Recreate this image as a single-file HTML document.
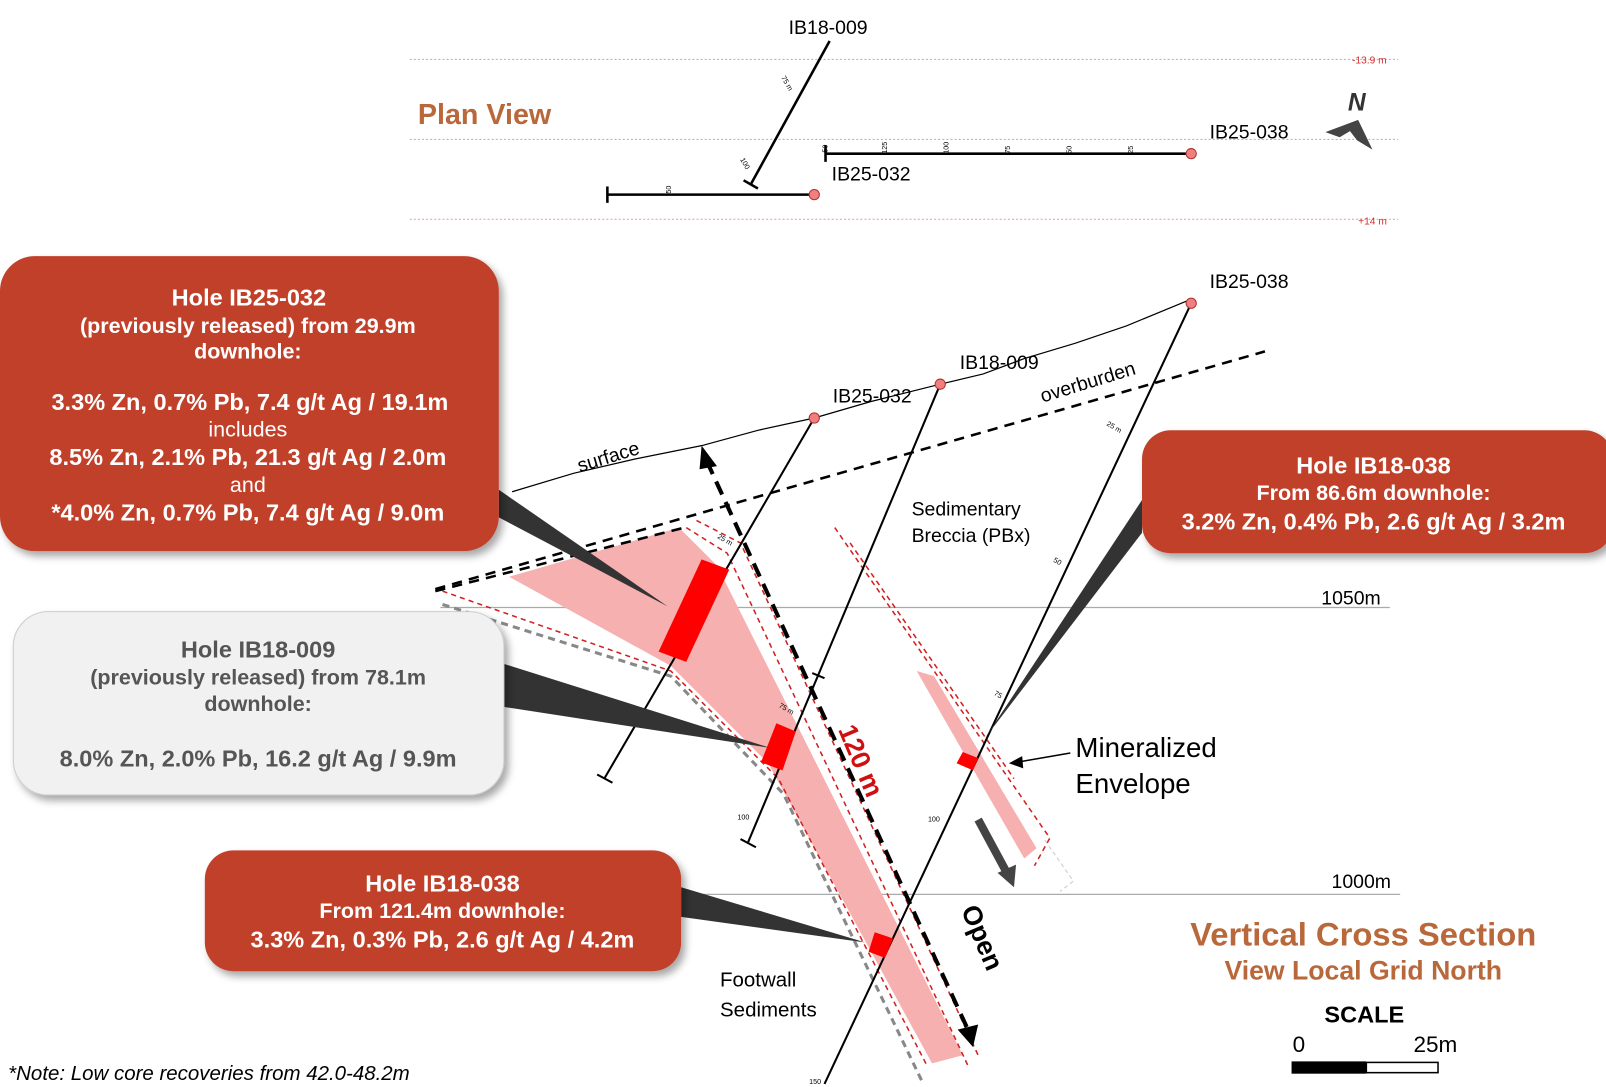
<!DOCTYPE html>
<html><head><meta charset="utf-8"><style>
html,body{margin:0;padding:0;background:#fff;}
svg{display:block;font-family:"Liberation Sans",Arial,sans-serif;}
</style></head><body>
<svg width="1606" height="1087" viewBox="0 0 1568 1061" preserveAspectRatio="none" xmlns="http://www.w3.org/2000/svg">
<defs>
<filter id="sh" x="-10%" y="-10%" width="125%" height="130%"><feDropShadow dx="4" dy="5" stdDeviation="4" flood-color="#000" flood-opacity="0.35"/></filter>
</defs>
<rect width="1568" height="1061" fill="#fff"/>
<!-- plan view -->
<g stroke="#e89a9a" stroke-width="1" stroke-dasharray="2,2">
<line x1="400" y1="58" x2="1365" y2="58"/><line x1="400" y1="136" x2="1365" y2="136"/><line x1="400" y1="214" x2="1365" y2="214"/>
</g>
<text x="1320" y="62" font-size="10" fill="#d03030">-13.9 m</text>
<text x="1326" y="219" font-size="10" fill="#d03030">+14 m</text>
<text x="408" y="121" font-size="28" font-weight="bold" fill="#b8683a">Plan View</text>
<g stroke="#000" stroke-width="2.5" fill="none">
<line x1="810" y1="40" x2="733" y2="180"/><line x1="726" y1="176" x2="740" y2="184"/>
<line x1="593" y1="190" x2="795" y2="190"/><line x1="593" y1="182" x2="593" y2="198"/>
<line x1="806" y1="150" x2="1163" y2="150"/><line x1="806" y1="142" x2="806" y2="158"/>
</g>
<g font-size="7" fill="#000">
<text x="652" y="186" transform="rotate(-90 655 186)">50</text>
<text x="862" y="146" transform="rotate(-90 866 146)">125</text>
<text x="922" y="146" transform="rotate(-90 926 146)">100</text>
<text x="982" y="146" transform="rotate(-90 986 146)">75</text>
<text x="1042" y="146" transform="rotate(-90 1046 146)">50</text>
<text x="1102" y="146" transform="rotate(-90 1106 146)">25</text>
<text x="805" y="146" transform="rotate(-90 808 146)">50</text>
<text x="760" y="80" transform="rotate(60 765 80)">75 m</text>
<text x="720" y="160" transform="rotate(60 725 160)">100</text>
</g>
<circle cx="795" cy="190" r="5" fill="#f08080" stroke="#b03030"/>
<circle cx="1163" cy="150" r="5" fill="#f08080" stroke="#b03030"/>
<g font-size="19" fill="#000">
<text x="770" y="33">IB18-009</text>
<text x="812" y="176">IB25-032</text>
<text x="1181" y="135">IB25-038</text>
</g>
<text x="1316" y="108" font-size="24" font-weight="bold" font-style="italic" fill="#333">N</text>
<path d="M1294,129 L1326,117 L1340,146 L1325,137 L1318,128 L1308,134 Z" fill="#444"/>

<!-- cross section -->
<line x1="430" y1="593" x2="1357" y2="593" stroke="#aaa" stroke-width="1.2"/>
<line x1="600" y1="873" x2="1367" y2="873" stroke="#aaa" stroke-width="1.2"/>
<text x="1290" y="590" font-size="19">1050m</text>
<text x="1300" y="867" font-size="19">1000m</text>

<polygon points="497,563 663,515 700,552 940,1030 910,1038 750,745 655,650" fill="#f7b0b0"/>
<polygon points="895,655 912,660 1012,828 1000,838" fill="#f7b0b0"/>
<g fill="none" stroke="#d02020" stroke-width="1.5" stroke-dasharray="5,4">
<polyline points="432,577 655,655 760,760 905,1040"/>
<polyline points="670,515 710,540 945,1040"/>
<polyline points="680,508 723,530 955,1030"/>
<polyline points="815,515 1025,818 1010,845"/>
<polyline points="830,530 990,760"/>
</g>
<polyline points="432,590 655,660 765,775 900,1055" fill="none" stroke="#888" stroke-width="3" stroke-dasharray="7,5"/>
<polyline points="1020,820 1048,860 1035,870" fill="none" stroke="#ccc" stroke-width="1" stroke-dasharray="4,3"/>
<g fill="none" stroke="#000" stroke-width="2.5" stroke-dasharray="10,7">
<line x1="425" y1="575" x2="1235" y2="343"/>
<line x1="425" y1="577" x2="668" y2="515"/>
</g>
<polyline points="500,480 560,462 620,448 685,435 740,420 795,408 850,392 918,375 960,365 1000,350 1050,335 1100,318 1163,292" fill="none" stroke="#000" stroke-width="1.2"/>
<g stroke="#000" stroke-width="2" fill="none">
<line x1="795" y1="408" x2="590" y2="760"/><line x1="583" y1="756" x2="598" y2="764"/>
<line x1="918" y1="375" x2="730" y2="823"/><line x1="723" y1="819" x2="738" y2="827"/>
<line x1="1163" y1="296" x2="805" y2="1058"/>
</g>
<line x1="690" y1="450" x2="945" y2="1005" stroke="#000" stroke-width="4" stroke-dasharray="14,8"/>
<polygon points="685,435 700,455 683,458" fill="#000"/>
<polygon points="950,1022 935,1005 955,1000" fill="#000"/>
<line x1="793" y1="657" x2="805" y2="662" stroke="#000" stroke-width="2"/>
<circle cx="795" cy="408" r="5" fill="#f08080" stroke="#b03030"/>
<circle cx="918" cy="375" r="5" fill="#f08080" stroke="#b03030"/>
<circle cx="1163" cy="296" r="5" fill="#f08080" stroke="#b03030"/>
<g font-size="19" fill="#000">
<text x="1181" y="281">IB25-038</text>
<text x="937" y="360">IB18-009</text>
<text x="813" y="393">IB25-032</text>
<text x="566" y="461" transform="rotate(-17 566 461)">surface</text>
<text x="1018" y="393" transform="rotate(-17 1018 393)">overburden</text>
<text x="890" y="503">Sedimentary</text>
<text x="890" y="529">Breccia (PBx)</text>
<text x="703" y="963" font-size="20">Footwall</text>
<text x="703" y="992" font-size="20">Sediments</text>
</g>
<g font-size="7" fill="#000">
<text x="700" y="525" transform="rotate(30 700 525)">25 m</text>
<text x="760" y="690" transform="rotate(30 760 690)">75 m</text>
<text x="720" y="800">100</text>
<text x="1080" y="415" transform="rotate(30 1080 415)">25 m</text>
<text x="1028" y="548" transform="rotate(30 1028 548)">50</text>
<text x="970" y="678" transform="rotate(30 970 678)">75</text>
<text x="906" y="802">100</text>
<text x="790" y="1058">150</text>
</g>
<!-- intercepts -->
<polygon points="685,546 712,556 670,646 643,636" fill="#f00"/>
<polygon points="758,706 777,714 764,752 743,744" fill="#f00"/>
<polygon points="854,910 872,916 864,935 848,929" fill="#f00"/>
<polygon points="940,734 955,740 950,752 934,745" fill="#f00"/>
<text x="0" y="0" font-size="26" font-weight="bold" fill="#d01010" transform="translate(818,712) rotate(67)">120 m</text>
<text x="0" y="0" font-size="26" font-weight="bold" fill="#000" transform="translate(938,888) rotate(67)">Open</text>
<line x1="955" y1="800" x2="982" y2="850" stroke="#444" stroke-width="8"/>
<polygon points="974,852 992,844 990,866" fill="#444"/>
<line x1="987" y1="745" x2="1045" y2="735" stroke="#000" stroke-width="1.5"/>
<polygon points="985,745 998,738 999,750" fill="#000"/>
<text x="1050" y="739" font-size="27">Mineralized</text>
<text x="1050" y="774" font-size="27">Envelope</text>

<!-- pointers -->
<polygon points="487,478 487,505 652,592" fill="#333"/>
<polygon points="492,648 492,690 752,730" fill="#333"/>
<polygon points="665,866 665,895 845,920" fill="#333"/>
<polygon points="1115,488 1115,520 962,720" fill="#333"/>
<!-- callouts -->
<rect x="0" y="250" width="487" height="288" rx="34" fill="#c0402b" filter="url(#sh)"/>
<g fill="#fff" font-weight="bold" text-anchor="middle" font-size="23">
<text x="243" y="298">Hole IB25-032</text>
<text x="242" y="325" font-size="21">(previously released) from 29.9m</text>
<text x="242" y="350" font-size="21">downhole:</text>
<text x="244" y="400">3.3% Zn, 0.7% Pb, 7.4 g/t Ag / 19.1m</text>
<text x="242" y="426" font-weight="normal" font-size="21">includes</text>
<text x="242" y="454">8.5% Zn, 2.1% Pb, 21.3 g/t Ag / 2.0m</text>
<text x="242" y="480" font-weight="normal" font-size="21">and</text>
<text x="242" y="508">*4.0% Zn, 0.7% Pb, 7.4 g/t Ag / 9.0m</text>
</g>
<rect x="13" y="597" width="479" height="179" rx="34" fill="#f1f1f1" stroke="#ccc" filter="url(#sh)"/>
<g fill="#555" font-weight="bold" text-anchor="middle" font-size="23">
<text x="252" y="642">Hole IB18-009</text>
<text x="252" y="668" font-size="21">(previously released) from 78.1m</text>
<text x="252" y="694" font-size="21">downhole:</text>
<text x="252" y="748">8.0% Zn, 2.0% Pb, 16.2 g/t Ag / 9.9m</text>
</g>
<rect x="200" y="830" width="465" height="118" rx="28" fill="#c0402b" filter="url(#sh)"/>
<g fill="#fff" font-weight="bold" text-anchor="middle" font-size="21">
<text x="432" y="870" font-size="23">Hole IB18-038</text>
<text x="432" y="896">From 121.4m downhole:</text>
<text x="432" y="925" font-size="23">3.3% Zn, 0.3% Pb, 2.6 g/t Ag / 4.2m</text>
</g>
<rect x="1115" y="420" width="460" height="120" rx="28" fill="#c0402b" filter="url(#sh)"/>
<g fill="#fff" font-weight="bold" text-anchor="middle" font-size="21">
<text x="1341" y="462" font-size="23">Hole IB18-038</text>
<text x="1341" y="488">From 86.6m downhole:</text>
<text x="1341" y="517" font-size="23">3.2% Zn, 0.4% Pb, 2.6 g/t Ag / 3.2m</text>
</g>
<!-- titles -->
<g fill="#b8683a" font-weight="bold" text-anchor="middle">
<text x="1331" y="923" font-size="32">Vertical Cross Section</text>
<text x="1331" y="956" font-size="26">View Local Grid North</text>
</g>
<text x="1332" y="998" font-size="23" font-weight="bold" text-anchor="middle">SCALE</text>
<text x="1262" y="1027" font-size="22">0</text>
<text x="1380" y="1027" font-size="22">25m</text>
<rect x="1261" y="1036" width="73" height="12" fill="#000"/>
<rect x="1334" y="1037" width="70" height="10" fill="#fff" stroke="#000" stroke-width="1.5"/>
<text x="8" y="1054" font-size="20" font-style="italic">*Note: Low core recoveries from 42.0-48.2m</text>
</svg>
</body></html>
